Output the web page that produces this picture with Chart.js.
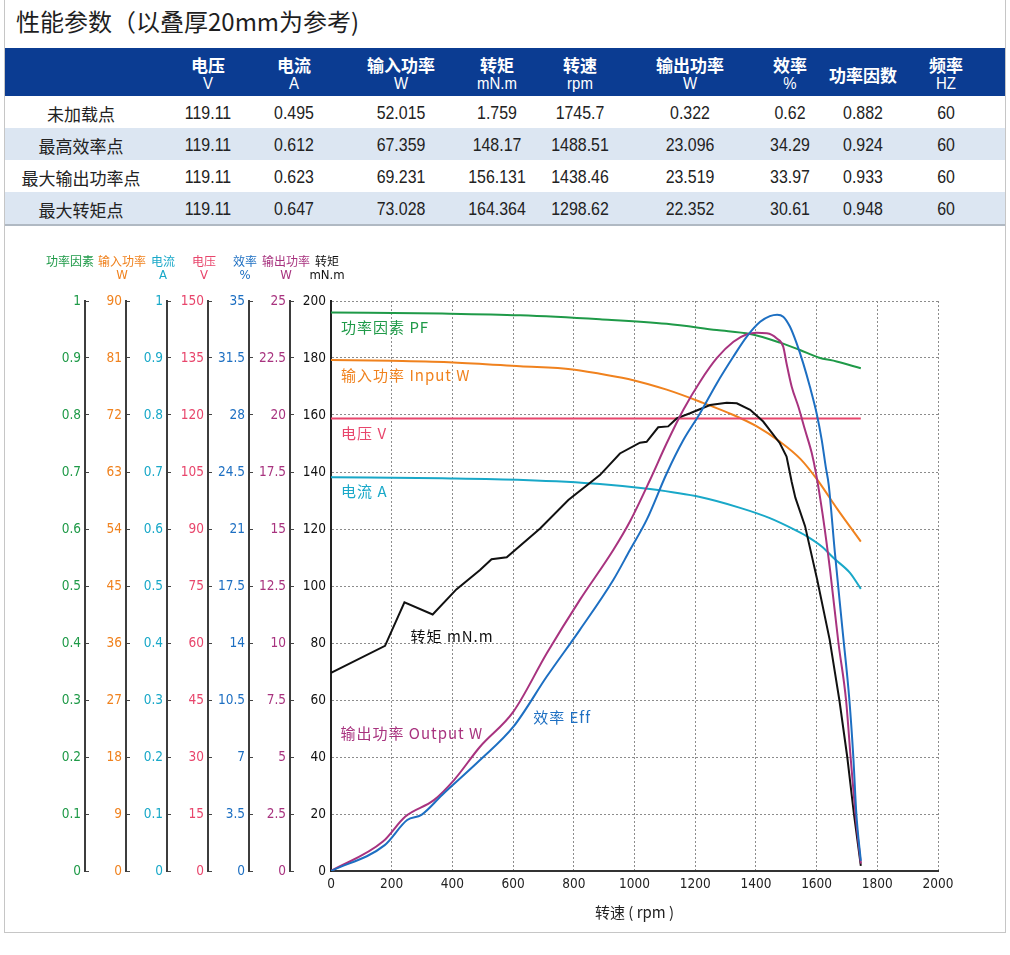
<!DOCTYPE html>
<html>
<head>
<meta charset="utf-8">
<script src="https://cdn.jsdelivr.net/npm/chart.js@4.4.1/dist/chart.umd.min.js"></script>
<style>
  body { margin: 0; background: #fff; font-family: "Noto Sans CJK SC", sans-serif; }
  .frame { position: absolute; left: 4px; top: -1px; width: 1000px; height: 932px; border: 1px solid #c6c6c6; }
  .title { position: absolute; left: 16px; top: 3px; font-size: 24px; color: #1e1e1e; white-space: nowrap; }
  .band { position: absolute; left: 5px; width: 1000px; }
  .head { top: 48px; height: 48px; background: #0b3c92; color: #fff; }
  .sep { height: 2px; background: #b0b9c3; }
  .cell { position: absolute; transform: translate(-50%, -50%); white-space: nowrap; }
  .cn { font-size: 17px; }
  .cnb { font-size: 17px; font-weight: bold; }
  .num { font-family: "Liberation Sans", sans-serif; font-size: 18.5px; color: #222; transform: translate(-50%, -50%) scaleX(0.86); }
  .unit { font-family: "Liberation Sans", sans-serif; font-size: 17px; transform: translate(-50%, -50%) scaleX(0.88); }
  #chart { position: absolute; left: 0; top: 240px; }
</style>
</head>
<body>
<div class="frame"></div>
<div class="title">性能参数（以叠厚20mm为参考)</div>
<div id="table"></div>
<canvas id="chart" width="1004" height="690"></canvas>
<script>
// table
const colCenters = [81, 208, 294, 401, 497, 580, 690, 790, 863, 946];
const headNames = ["", "电压", "电流", "输入功率", "转矩", "转速", "输出功率", "效率", "功率因数", "频率"];
const headUnits = ["", "V", "A", "W", "mN.m", "rpm", "W", "%", "", "HZ"];
const rowNames = ["未加载点", "最高效率点", "最大输出功率点", "最大转矩点"];
const noLoadRow = ["119.11", "0.495", "52.015", "1.759", "1745.7", "0.322", "0.62", "0.882", "60"];
const maxEffRow = ["119.11", "0.612", "67.359", "148.17", "1488.51", "23.096", "34.29", "0.924", "60"];
const maxOutRow = ["119.11", "0.623", "69.231", "156.131", "1438.46", "23.519", "33.97", "0.933", "60"];
const maxTqRow = ["119.11", "0.647", "73.028", "164.364", "1298.62", "22.352", "30.61", "0.948", "60"];

// curves (x = rpm)
const pfRpm = [0, 366, 623, 886, 1106, 1271, 1381, 1479, 1545, 1606, 1666, 1745.7];
const pfVal = [0.980, 0.978, 0.975, 0.968, 0.960, 0.949, 0.942, 0.927, 0.914, 0.901, 0.894, 0.882];

const inRpm = [0, 200, 403, 623, 796, 886, 996, 1106, 1216, 1326, 1403, 1479, 1548, 1602, 1669, 1745.7];
const inW = [80.7, 80.55, 80.3, 79.7, 79.2, 78.5, 77.5, 76.0, 74.1, 72.0, 70.2, 67.8, 65.0, 61.8, 57.1, 52.015];

const curRpm = [0, 366, 634, 886, 1051, 1216, 1348, 1446, 1530, 1575, 1620, 1656, 1710, 1745.7];
const curA = [0.691, 0.689, 0.686, 0.679, 0.670, 0.656, 0.637, 0.619, 0.598, 0.585, 0.568, 0.549, 0.523, 0.495];

const voltRpm = [0, 1745.7];
const voltV = [119.11, 119.11];

const tqRpm = [0, 178, 242, 335, 413, 491, 529, 579, 689, 782, 886, 952, 1018, 1040, 1078, 1111, 1139, 1183,
  1249, 1304, 1337, 1381, 1424, 1479, 1501, 1510, 1518, 1530, 1562, 1602, 1643, 1675, 1701, 1723, 1745.7];
const tqVal = [69.5, 79, 94.3, 90, 98.8, 105.6, 109.4, 110.1, 120.2, 130.2, 138.9, 146.5, 150.3, 150.6, 155.7, 156.0, 158.8, 160.6,
  163.5, 164.3, 164.1, 161.8, 157.7, 150.1, 145.4, 140.7, 136.5, 131, 121, 102.2, 81.2, 60, 40, 20, 1.759];

const outRpm = [0, 171, 245, 339, 406, 491, 601, 711, 820, 930, 985, 1051, 1106, 1161, 1216, 1271, 1326, 1370, 1403,
  1436, 1469, 1490, 1501, 1518, 1540, 1562, 1584, 1598, 1620, 1645, 1672, 1697, 1712, 1728, 1745.7];
const outW = [0, 1.29, 2.39, 3.11, 4.0, 5.45, 6.99, 9.55, 11.89, 14.08, 15.33, 17.15, 18.76, 20.23, 21.46, 22.49, 23.21, 23.54, 23.61,
  23.59, 23.36, 23.0, 22.26, 21.24, 20.36, 19.34, 18.33, 17.44, 15.63, 13.13, 10.0, 7.5, 5.0, 2.5, 0.322];

const effRpm = [0, 177, 251, 298, 366, 491, 601, 711, 820, 930, 985, 1040, 1106, 1161, 1216, 1271, 1326, 1370, 1414,
  1446, 1470, 1490, 1512, 1534, 1556, 1578, 1600, 1617, 1630, 1640, 1660, 1685, 1708, 1721, 1731, 1745.7];
const effPct = [0, 1.59, 3.13, 3.45, 4.67, 6.81, 8.86, 11.94, 14.81, 17.87, 19.71, 21.56, 24.41, 26.46, 28.11, 29.94, 31.59, 32.81, 33.72,
  34.07, 34.16, 34.04, 33.43, 32.41, 31.17, 29.73, 28.11, 26.46, 24.83, 23.7, 19.6, 14.88, 10.5, 7.0, 3.5, 0.62];

// axes, outermost first
const axisIds = ["yPF", "yIn", "yCur", "yVolt", "yEff", "yOut", "yTq"];
const axisNames = ["功率因素", "输入功率", "电流", "电压", "效率", "输出功率", "转矩"];
const axisUnits = ["", "W", "A", "V", "%", "W", "mN.m"];
const axisMax = [1, 90, 1, 150, 35, 25, 200];
const axisStep = [0.1, 9, 0.1, 15, 3.5, 2.5, 20];
const axisColors = ["#1f9a48", "#f0821e", "#19a8c8", "#e8466c", "#1d6fc2", "#a8337f", "#111111"];
const rpmTicks = { min: 0, max: 2000, step: 200 };

const narrow = '"DejaVu Sans Condensed", "Liberation Sans", sans-serif';
const cjk = '"Noto Sans CJK SC", sans-serif';

function buildTable() {
  const box = document.getElementById("table");
  let html = '<div class="band head">';
  headNames.forEach((n, i) => {
    if (!n) return;
    const cx = colCenters[i] - 5;
    if (headUnits[i]) {
      html += `<span class="cell cnb" style="left:${cx}px;top:16px">${n}</span>`;
      html += `<span class="cell unit" style="left:${cx}px;top:36px">${headUnits[i]}</span>`;
    } else {
      html += `<span class="cell cnb" style="left:${cx}px;top:26px">${n}</span>`;
    }
  });
  html += "</div>";
  const rows = [noLoadRow, maxEffRow, maxOutRow, maxTqRow];
  rows.forEach((r, k) => {
    const top = 96 + k * 32;
    const bg = k % 2 ? "#dce6f2" : "#fff";
    html += `<div class="band" style="top:${top}px;height:32px;background:${bg}">`;
    html += `<span class="cell cn" style="left:${colCenters[0] - 5}px;top:17px;color:#222">${rowNames[k]}</span>`;
    r.forEach((v, i) => {
      html += `<span class="cell num" style="left:${colCenters[i + 1] - 5}px;top:17px">${v}</span>`;
    });
    html += "</div>";
    html += `<div class="band sep" style="top:${top + 32}px"></div>`;
  });
  box.innerHTML = html;
}
buildTable();

const pts = (xs, ys) => xs.map((x, i) => ({ x: x, y: ys[i] }));
const fmt = (v) => String(Math.round(v * 100) / 100);

const scales = {
  x: {
    type: "linear",
    min: rpmTicks.min,
    max: rpmTicks.max,
    ticks: { stepSize: rpmTicks.step, color: "#222", padding: 5, font: { family: narrow, size: 13.5 }, callback: fmt },
    grid: { color: "#8c8c8c", drawTicks: false },
    border: { color: "#333", width: 2, dash: [2, 2] },
    title: { display: true, text: "转速 ( rpm )", color: "#222", font: { family: cjk, size: 15 }, padding: { top: 0, bottom: 9 } },
    afterFit: (s) => { s.height = 59; },
  },
};
axisIds.forEach((id, i) => {
  const main = id === "yTq";
  scales[id] = {
    type: "linear",
    position: "left",
    weight: axisIds.length - 1 - i,
    min: 0,
    max: axisMax[i],
    ticks: {
      stepSize: axisStep[i],
      color: axisColors[i],
      padding: main ? 5 : 8,
      font: { family: narrow, size: 13.5 },
      callback: fmt,
    },
    grid: main
      ? { color: "#8c8c8c", drawTicks: false }
      : { drawOnChartArea: false, drawTicks: true, tickLength: -4, color: "#444" },
    border: { color: main ? "#222" : "#3d3d3d", width: 2, dash: main ? [2, 2] : [] },
    afterFit: (s) => { s.width = 41; },
  };
});

const line = (label, data, color, axis, smooth) => ({
  label: label,
  data: data,
  yAxisID: axis,
  borderColor: color,
  borderWidth: 2,
  pointRadius: 0,
  fill: false,
  cubicInterpolationMode: smooth ? "monotone" : "default",
  tension: 0,
});

// curve names drawn inside the plot: text, rpm, torque-axis height
const curveLabels = [
  ["功率因素 PF", 33, 190.9, axisColors[0]],
  ["输入功率 Input W", 33, 174.0, axisColors[1]],
  ["电压 V", 33, 153.7, axisColors[3]],
  ["电流 A", 33, 133.1, axisColors[2]],
  ["转矩 mN.m", 262, 82.2, axisColors[6]],
  ["输出功率 Output W", 31, 48.3, axisColors[5]],
  ["效率 Eff", 666, 54.1, axisColors[4]],
];

const headerPlugin = {
  id: "headerPlugin",
  afterDraw(chart) {
    const ctx = chart.ctx;
    ctx.save();
    ctx.textAlign = "center";
    ctx.textBaseline = "middle";
    axisIds.forEach((id, i) => {
      const s = chart.scales[id];
      // the outermost header sits further left, it is the widest
      const cx = s.right - (i === 0 ? 15 : 4);
      ctx.fillStyle = axisColors[i];
      ctx.font = "12px " + cjk;
      ctx.fillText(axisNames[i], cx, 21);
      if (axisUnits[i]) {
        ctx.font = "13px " + narrow;
        ctx.fillText(axisUnits[i], cx, 36);
      }
    });
    const xs = chart.scales.x;
    const ys = chart.scales.yTq;
    ctx.textAlign = "left";
    ctx.font = "15px " + cjk;
    ctx.letterSpacing = "1px";
    curveLabels.forEach(([t, rx, ry, c]) => {
      ctx.fillStyle = c;
      ctx.fillText(t, xs.getPixelForValue(rx), ys.getPixelForValue(ry));
    });
    ctx.restore();
  },
};

new Chart(document.getElementById("chart"), {
  type: "line",
  data: {
    datasets: [
      line("效率", pts(effRpm, effPct), axisColors[4], "yEff", true),
      line("输出功率", pts(outRpm, outW), axisColors[5], "yOut", true),
      line("转矩", pts(tqRpm, tqVal), axisColors[6], "yTq", false),
      line("电压", pts(voltRpm, voltV), axisColors[3], "yVolt", false),
      line("电流", pts(curRpm, curA), axisColors[2], "yCur", true),
      line("输入功率", pts(inRpm, inW), axisColors[1], "yIn", true),
      line("功率因素", pts(pfRpm, pfVal), axisColors[0], "yPF", true),
    ],
  },
  options: {
    responsive: false,
    maintainAspectRatio: false,
    devicePixelRatio: 1,
    animation: false,
    events: [],
    layout: { padding: { left: 44, right: 66, top: 61, bottom: 0 } },
    plugins: { legend: { display: false }, tooltip: { enabled: false } },
    scales: scales,
  },
  plugins: [headerPlugin],
});
</script>
</body>
</html>
